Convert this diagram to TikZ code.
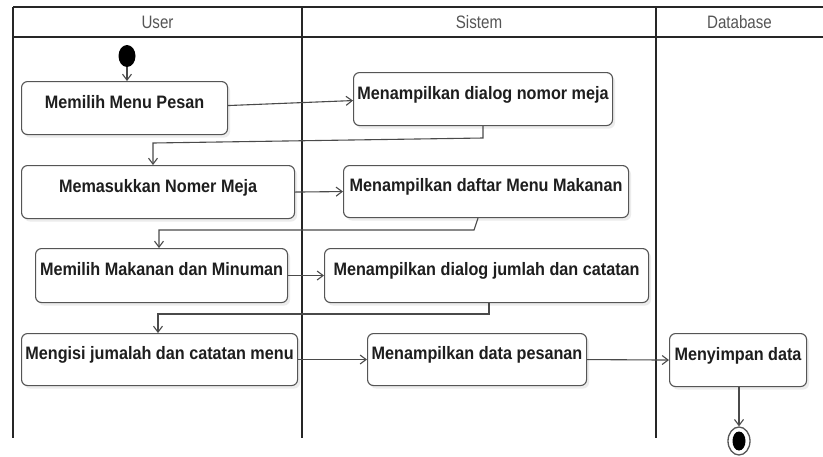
\documentclass[tikz,border=0pt]{standalone}
\usepackage{fontspec}
\usetikzlibrary{arrows.meta,shapes.geometric,shadows}
\newfontfamily\actfont{Liberation Sans}[FakeStretch=0.9]
\newfontfamily\lanefont{Liberation Sans}[FakeStretch=0.84]
\definecolor{edgegray}{HTML}{555555}
\definecolor{flowgray}{HTML}{4A4A4A}
\definecolor{headgray}{HTML}{555555}
\definecolor{textdark}{HTML}{1E1E1E}
\begin{document}
\begin{tikzpicture}[x=1pt,y=-1pt,
  lane/.style={line width=1.8pt,black!85},
  lanehead/.style={font=\lanefont\fontsize{18}{20}\selectfont,text=headgray,anchor=base,inner sep=0pt},
  act/.style={draw=edgegray,line width=1.1pt,rounded corners=6pt,fill=white,
    anchor=north west,inner sep=0pt,text height=12pt,text depth=12pt,
    font=\actfont\bfseries\fontsize{18}{20}\selectfont,text=textdark,
    drop shadow={shadow xshift=2.5pt,shadow yshift=-3pt,fill=black!12,opacity=0.6}},
  flow/.style={draw=flowgray,line width=1.1pt,-{Straight Barb[length=6pt,width=9pt]}},
]
\useasboundingbox (0,0) rectangle (823,456);
\fill[white] (0,0) rectangle (823,456);

% swimlane frame
\draw[lane] (13,7) -- (823,7);
\draw[lane] (13,37) -- (823,37);
\draw[lane] (13,7) -- (13,438);
\draw[lane] (302,7) -- (302,438);
\draw[lane] (656,7) -- (656,438);
\node[lanehead] (hUser) at (157.5,28) {User};
\node[lanehead] (hSistem) at (479,28) {Sistem};
\node[lanehead] (hDb) at (739.5,28) {Database};

% initial node
\node[ellipse,fill=black,minimum width=17pt,minimum height=22pt,inner sep=0pt] (start) at (127,56) {};

% activities
\node[act,minimum width=206pt,minimum height=53pt] (b1) at (21,81) {Memilih Menu Pesan};
\node[act,minimum width=259pt,minimum height=53pt] (b2) at (353,72) {Menampilkan dialog nomor meja};
\node[act,minimum width=273pt,minimum height=53pt] (b3) at (21,165) {Memasukkan Nomer Meja};
\node[act,minimum width=285pt,minimum height=52pt] (b4) at (343,165) {Menampilkan daftar Menu Makanan};
\node[act,minimum width=252pt,minimum height=54pt] (b5) at (35,248) {Memilih Makanan dan Minuman};
\node[act,minimum width=324pt,minimum height=54pt] (b6) at (324,248) {Menampilkan dialog jumlah dan catatan};
\node[act,minimum width=276pt,minimum height=52pt] (b7) at (21,333) {Mengisi jumalah dan catatan menu};
\node[act,minimum width=219pt,minimum height=52pt] (b8) at (367,333) {Menampilkan data pesanan};
\node[act,minimum width=137pt,minimum height=53pt] (b9) at (669,333) {Menyimpan data};

% final node
\node[ellipse,draw=edgegray,line width=1.3pt,fill=white,minimum width=22pt,minimum height=28pt,inner sep=0pt] (endO) at (739,441) {};
\node[ellipse,fill=black,minimum width=13pt,minimum height=19pt,inner sep=0pt] (endI) at (endO.center) {};

% bend points of the return flows
\coordinate (r1a) at (483,138);
\coordinate (r1b) at (153,143);
\coordinate (r2s) at (478,0);
\coordinate (r2a) at (474,230);
\coordinate (r2b) at (159,230);
\coordinate (r3a) at (489,314);
\coordinate (r3b) at (158,314);

% control flow
\draw[flow] (start) -- (start |- b1.north);
\draw[flow] ([yshift=2.5pt]b1.east) -- ([yshift=-1.5pt]b2.west);
\draw[flow] (r1a |- b2.south) -- (r1a) -- (r1b) -- (r1b |- b3.north);
\draw[flow] (b3.east) -- (b4.west);
\draw[flow] (r2s |- b4.south) -- (r2a) -- (r2b) -- (r2b |- b5.north);
\draw[flow] (b5.east) -- (b6.west);
\draw[flow] (r3a |- b6.south) -- (r3a) -- (r3b) -- (r3b |- b7.north);
\draw[flow] (b7.east) -- (b8.west);
\draw[flow] (b8.east) -- (b9.west);
\draw[flow] (b9.south -| endO) -- (endO.north);
\end{tikzpicture}
\end{document}
